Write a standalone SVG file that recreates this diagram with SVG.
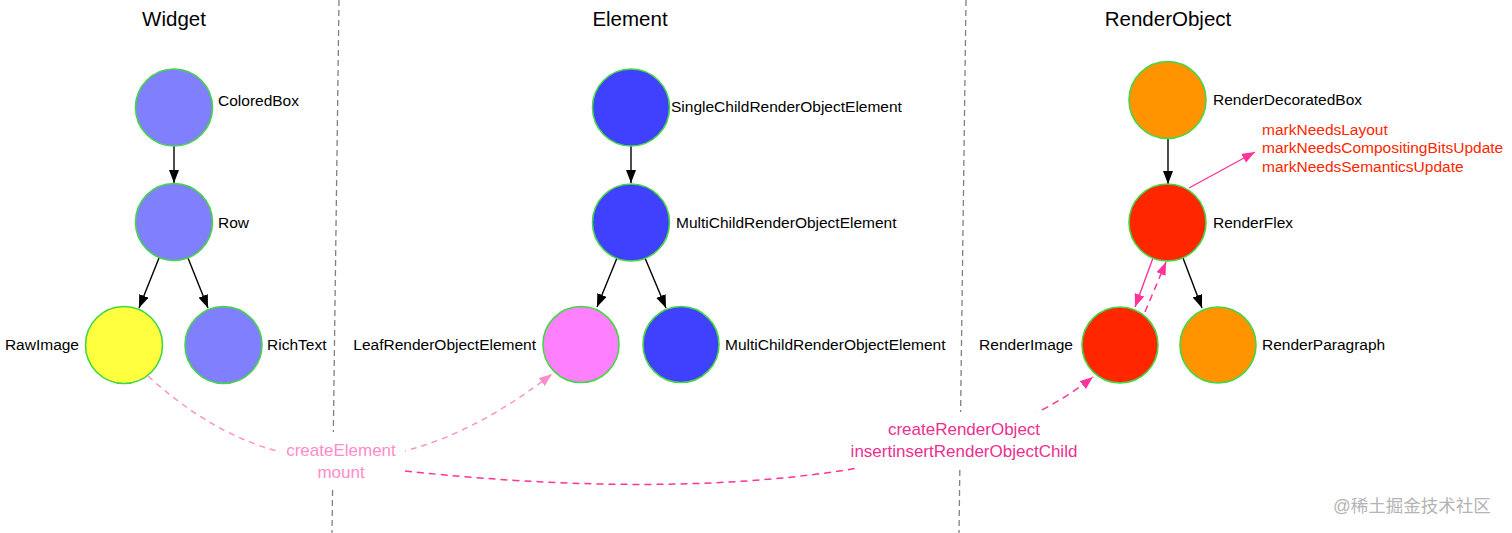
<svg xmlns="http://www.w3.org/2000/svg" width="1512" height="533" viewBox="0 0 1512 533">
<style>
text{font-family:"Liberation Sans",Arial,sans-serif;font-size:15.5px;fill:#000}
.title{font-size:20.5px;text-anchor:middle}
.node{stroke:#45d645;stroke-width:1.6}
.edge{fill:none;stroke:#000;stroke-width:1.4}
.pk{fill:none;stroke:#ff3399;stroke-width:1.4}
.pkd{fill:none;stroke:#ff3399;stroke-width:1.5;stroke-dasharray:7 5}
.lpd{fill:none;stroke:#ff8ccb;stroke-width:1.4;stroke-dasharray:6 5}
.div{stroke:#808080;stroke-width:1.3;stroke-dasharray:6 4}
.red{fill:#ff2600}
.lbl1{font-size:17px;fill:#ff8cc8;text-anchor:middle}
.lbl2{font-size:17px;fill:#ec3090;text-anchor:middle}
.end{text-anchor:end}
</style>
<defs>
<marker id="ab" markerUnits="userSpaceOnUse" markerWidth="14" markerHeight="11" refX="13" refY="5" orient="auto"><path d="M0,0 L13,5 L0,10 z" fill="#000"/></marker>
<marker id="ap" markerUnits="userSpaceOnUse" markerWidth="14" markerHeight="11" refX="13" refY="5" orient="auto"><path d="M0,0 L13,5 L0,10 z" fill="#ff3399"/></marker>
<marker id="al" markerUnits="userSpaceOnUse" markerWidth="14" markerHeight="11" refX="13" refY="5" orient="auto"><path d="M0,0 L13,5 L0,10 z" fill="#ff8ccb"/></marker>
</defs>
<rect width="1512" height="533" fill="#fff"/>
<g id="dividers">
<line class="div" x1="339" y1="0" x2="332" y2="533"/>
<line class="div" x1="966" y1="0" x2="959" y2="533"/>
</g>
<g id="titles">
<text class="title" x="174" y="26">Widget</text>
<text class="title" x="630" y="26">Element</text>
<text class="title" x="1168" y="26">RenderObject</text>
</g>
<g id="connectors">
<line class="edge" x1="174" y1="146" x2="174" y2="183" marker-end="url(#ab)"/>
<line class="edge" x1="159" y1="258" x2="139" y2="308" marker-end="url(#ab)"/>
<line class="edge" x1="188" y1="258" x2="208" y2="308" marker-end="url(#ab)"/>
<line class="edge" x1="631" y1="146" x2="631" y2="183" marker-end="url(#ab)"/>
<line class="edge" x1="617" y1="258" x2="597" y2="307" marker-end="url(#ab)"/>
<line class="edge" x1="645" y1="258" x2="666" y2="308" marker-end="url(#ab)"/>
<line class="edge" x1="1168" y1="138" x2="1168" y2="184" marker-end="url(#ab)"/>
<line class="edge" x1="1183" y1="258" x2="1202" y2="308" marker-end="url(#ab)"/>
<line class="pk" x1="1189" y1="188" x2="1255" y2="152" marker-end="url(#ap)"/>
<line class="pk" x1="1153" y1="258" x2="1135" y2="307" marker-end="url(#ap)"/>
<line class="pkd" x1="1145" y1="312" x2="1166" y2="262" marker-end="url(#ap)"/>
<path class="lpd" d="M148,376 Q332,544 552,374" marker-end="url(#al)"/>
<path class="pkd" d="M405,471 C600,492 930,505 1093,377" marker-end="url(#ap)"/>
</g>
<g id="label-createElement">
<rect x="280" y="432" width="125" height="58" fill="#fff"/>
<text class="lbl1" x="341" y="456">createElement</text>
<text class="lbl1" x="341" y="478">mount</text>
</g>
<g id="label-createRenderObject">
<rect x="858" y="412" width="228" height="58" fill="#fff"/>
<text class="lbl2" x="964" y="435">createRenderObject</text>
<text class="lbl2" x="964" y="457">insertinsertRenderObjectChild</text>
</g>
<g id="ColoredBox"><circle class="node" cx="174" cy="107.5" r="38.5" fill="#8080ff"/><text x="218" y="106">ColoredBox</text></g>
<g id="Row"><circle class="node" cx="174" cy="222" r="38.5" fill="#8080ff"/><text x="218" y="227.5">Row</text></g>
<g id="RawImage"><circle class="node" cx="124" cy="345" r="38.5" fill="#ffff40"/><text class="end" x="79" y="350">RawImage</text></g>
<g id="RichText"><circle class="node" cx="223.5" cy="345" r="38.5" fill="#8080ff"/><text x="267" y="350">RichText</text></g>
<g id="SingleChildRenderObjectElement"><circle class="node" cx="631" cy="107.5" r="38.5" fill="#4040ff"/><text x="671" y="112">SingleChildRenderObjectElement</text></g>
<g id="MultiChildRenderObjectElement"><circle class="node" cx="631" cy="222.5" r="38.5" fill="#4040ff"/><text x="676" y="227.5">MultiChildRenderObjectElement</text></g>
<g id="LeafRenderObjectElement"><circle class="node" cx="581" cy="344.5" r="38" fill="#ff80ff"/><text class="end" x="536" y="350">LeafRenderObjectElement</text></g>
<g id="MultiChildRenderObjectElement2"><circle class="node" cx="681" cy="344.5" r="38" fill="#4040ff"/><text x="725" y="350">MultiChildRenderObjectElement</text></g>
<g id="RenderDecoratedBox"><circle class="node" cx="1167.5" cy="100" r="38.5" fill="#ff9300"/><text x="1213" y="104.5">RenderDecoratedBox</text></g>
<g id="RenderFlex"><circle class="node" cx="1167.5" cy="222.5" r="38.5" fill="#ff2600"/><text x="1213" y="227.5">RenderFlex</text></g>
<g id="RenderImage"><circle class="node" cx="1120" cy="345" r="38" fill="#ff2600"/><text class="end" x="1073" y="349.5">RenderImage</text></g>
<g id="RenderParagraph"><circle class="node" cx="1218" cy="345" r="38" fill="#ff9300"/><text x="1262" y="350">RenderParagraph</text></g>
<g id="marks">
<text class="red" x="1262" y="134.5">markNeedsLayout</text>
<text class="red" x="1262" y="153">markNeedsCompositingBitsUpdate</text>
<text class="red" x="1262" y="171.5">markNeedsSemanticsUpdate</text>
</g>
<text x="1333" y="512" style="font-family:'Liberation Sans','Noto Sans CJK SC',sans-serif;font-size:17.5px;fill:#b4b4b4">@稀土掘金技术社区</text>
</svg>
